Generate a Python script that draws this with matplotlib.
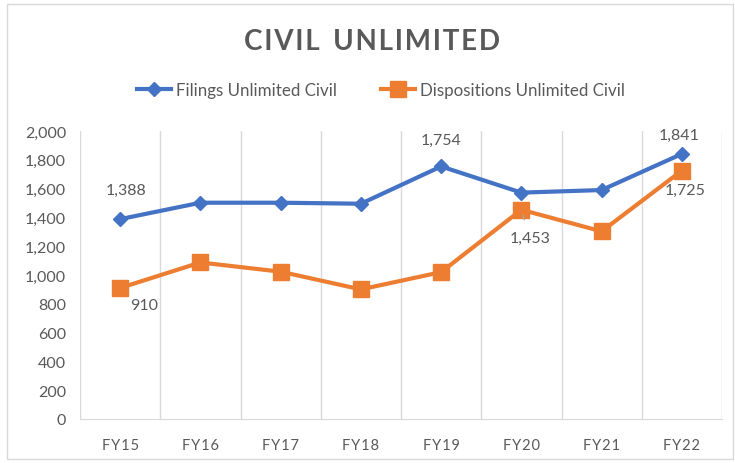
import matplotlib.pyplot as plt
from matplotlib.patches import Rectangle
from matplotlib.ticker import FuncFormatter

years = ["FY15", "FY16", "FY17", "FY18", "FY19", "FY20", "FY21", "FY22"]
filings = [1388, 1502, 1502, 1495, 1754, 1572, 1590, 1841]
dispositions = [910, 1087, 1023, 900, 1020, 1453, 1303, 1725]

BLUE = "#4472C4"
ORANGE = "#ED7D31"
GREY = "#595959"
FONT = ["Lato", "DejaVu Sans"]

plt.rcParams["font.family"] = FONT

fig = plt.figure(figsize=(7.35, 4.64), dpi=100)
# light border round the whole chart
fig.patches.append(Rectangle((7 / 735, 4 / 464), 726 / 735, 455 / 464,
                             transform=fig.transFigure, fill=False,
                             edgecolor="#d9d9d9", linewidth=1))

ax = fig.add_axes([80 / 735, 1 - 420 / 464, 642 / 735, 288 / 464])
x = list(range(len(years)))
ax.plot(x, filings, color=BLUE, linewidth=3, marker="D", markersize=7,
        label="Filings Unlimited Civil")
ax.plot(x, dispositions, color=ORANGE, linewidth=3, marker="s", markersize=11,
        label="Dispositions Unlimited Civil")

ax.set_xlim(-0.5, len(years) - 0.5)
ax.set_ylim(0, 2000)
ax.set_yticks(range(0, 2001, 200))
ax.yaxis.set_major_formatter(FuncFormatter(lambda v, p: f"{int(v):,}"))
ax.set_xticks(x)
ax.set_xticklabels(["\u200a".join(y) for y in years])
ax.set_xticks([i - 0.5 for i in range(len(years) + 1)], minor=True)
ax.grid(True, which="minor", axis="x", color="#d9d9d9", linewidth=1)
ax.tick_params(axis="both", which="both", length=0, colors=GREY)
ax.tick_params(axis="y", labelsize=11.5, pad=10)
ax.tick_params(axis="x", labelsize=10.5, pad=14)
for s in ["top", "right", "left"]:
    ax.spines[s].set_visible(False)
ax.spines["bottom"].set_color("#d9d9d9")

lab = dict(color=GREY, fontsize=11.5, ha="center", va="center")
ax.annotate(f"{filings[0]:,}", (0, filings[0]), xytext=(4, 21),
            textcoords="offset points", **lab)
ax.annotate(f"{dispositions[0]:,}", (0, dispositions[0]), xytext=(17, -12),
            textcoords="offset points", **lab)
ax.annotate(f"{filings[4]:,}", (4, filings[4]), xytext=(0, 19),
            textcoords="offset points", **lab)
ax.annotate(f"{dispositions[5]:,}", (5, dispositions[5]), xytext=(6, -20),
            textcoords="offset points",
            arrowprops=dict(arrowstyle="-", color="#a6a6a6", lw=1,
                            shrinkA=6, shrinkB=4), **lab)
ax.annotate(f"{filings[7]:,}", (7, filings[7]), xytext=(-2, 14),
            textcoords="offset points", **lab)
ax.annotate(f"{dispositions[7]:,}", (7, dispositions[7]), xytext=(2, -14),
            textcoords="offset points", **lab)

title = "\u200a".join("CIVIL") + "  " + "\u200a".join("UNLIMITED")
fig.text(0.506, 1 - 42 / 464, title, ha="center", va="center",
         fontsize=20, fontweight="bold", color=GREY)

fig.legend(loc="center", bbox_to_anchor=(0.518, 1 - 91 / 464), ncol=2,
           frameon=False, fontsize=12.2, labelcolor=GREY, handlelength=2.0,
           columnspacing=2.6, handletextpad=0.3)

fig.savefig("out.png", dpi=100)
